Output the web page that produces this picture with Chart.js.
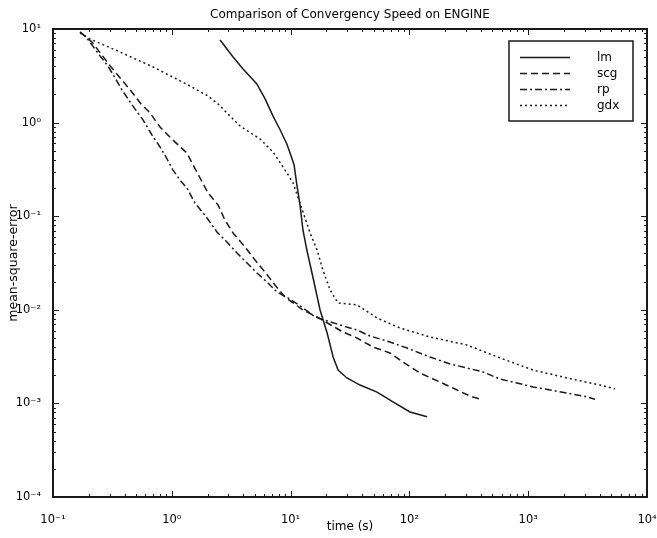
<!DOCTYPE html>
<html>
<head>
<meta charset="utf-8">
<script src="https://cdn.jsdelivr.net/npm/chart.js@4.4.1/dist/chart.umd.min.js"></script>
<style>
  html, body { margin: 0; padding: 0; background: #fff; }
</style>
</head>
<body>
<canvas id="chart" width="657" height="538"></canvas>
<script>
// series names (legend order)
const seriesNames = ["lm", "scg", "rp", "gdx"];

// time (s) and mean-square-error
const lmTime = [2.55, 3.28, 3.98, 5.2, 6.1, 7.1, 8.1, 9.3, 10.1, 10.7, 11.3, 12.0, 12.7, 13.7, 15.4, 17.7, 20.3, 22.8, 25.1, 29.8, 38.4, 53.4, 72.8, 101, 141];
const lmMse = [7.63, 5.02, 3.74, 2.59, 1.79, 1.18, 0.854, 0.591, 0.44, 0.352, 0.215, 0.132, 0.0712, 0.0435, 0.0224, 0.00995, 0.00565, 0.00313, 0.00227, 0.00187, 0.00157, 0.00132, 0.00104, 0.00081, 0.00072];

const scgTime = [0.169, 0.213, 0.254, 0.308, 0.374, 0.454, 0.551, 0.656, 0.796, 1.02, 1.34, 1.51, 1.73, 2.02, 2.45, 2.80, 3.28, 4.13, 5.02, 6.09, 7.39, 8.97, 12.7, 16.7, 27.6, 36.2, 49.4, 68.6, 88.3, 123, 181, 252, 324, 393];
const scgMse = [9.29, 7.26, 5.41, 3.93, 2.92, 2.18, 1.58, 1.27, 0.897, 0.652, 0.473, 0.352, 0.256, 0.177, 0.132, 0.0911, 0.0661, 0.0469, 0.034, 0.0253, 0.0184, 0.0137, 0.00995, 0.00838, 0.00579, 0.005, 0.004, 0.00346, 0.00277, 0.00211, 0.00169, 0.00139, 0.0012, 0.00111];

const rpTime = [0.169, 0.19, 0.249, 0.29, 0.333, 0.381, 0.471, 0.572, 0.681, 0.796, 0.894, 1.02, 1.17, 1.34, 1.57, 1.98, 2.40, 2.91, 3.54, 4.30, 5.22, 6.33, 7.68, 9.51, 12.7, 16.1, 26.1, 36.2, 46.6, 68.6, 95.5, 149, 220, 305, 416, 579, 805, 1100, 1530, 2120, 2890, 3650];
const rpMse = [9.29, 8.21, 5.15, 4.02, 3.0, 2.23, 1.5, 1.07, 0.737, 0.549, 0.429, 0.312, 0.244, 0.2, 0.138, 0.0957, 0.0678, 0.053, 0.0404, 0.0316, 0.0247, 0.0198, 0.0155, 0.0134, 0.0105, 0.00838, 0.00688, 0.00608, 0.00525, 0.00453, 0.0039, 0.00313, 0.00264, 0.00239, 0.00217, 0.00182, 0.00165, 0.0015, 0.00139, 0.00129, 0.0012, 0.00111];

const gdxTime = [0.169, 0.205, 0.366, 0.695, 1.32, 2.02, 2.45, 3.75, 5.53, 7.11, 9.33, 10.5, 14.6, 16.7, 18.7, 21.5, 25.1, 36.2, 53.4, 83.3, 149, 305, 579, 1100, 2120, 4020, 5380];
const gdxMse = [9.06, 7.82, 5.68, 3.93, 2.59, 1.92, 1.58, 0.92, 0.668, 0.485, 0.289, 0.226, 0.0661, 0.0435, 0.0266, 0.0163, 0.0118, 0.0113, 0.00817, 0.00639, 0.00512, 0.00421, 0.00306, 0.00227, 0.00187, 0.00157, 0.00143];

// axis decades (tick labels are 10^n)
const xDecades = [-1, 0, 1, 2, 3, 4];
const yDecades = [-4, -3, -2, -1, 0, 1];

const FONT = "'DejaVu Sans', 'Liberation Sans', sans-serif";
const INK = "#1a1a1a";

const supMap = { "-": "\u207B", "0": "\u2070", "1": "\u00B9", "2": "\u00B2", "3": "\u00B3", "4": "\u2074" };
function powLabel(e) {
  return "10" + String(e).split("").map(c => supMap[c]).join("");
}

// ticks 1..9 in every decade, last decade only its start
function decadeTicks(exps) {
  const ticks = [];
  exps.forEach((e, i) => {
    const base = Math.pow(10, e);
    const top = i === exps.length - 1 ? 1 : 9;
    for (let m = 1; m <= top; m++) {
      ticks.push({ value: m * base, major: m === 1, exp: e });
    }
  });
  return ticks;
}

function zip(xs, ys) {
  return xs.map((x, i) => ({ x: x, y: ys[i] }));
}

// box round the plot with inward ticks on all four sides
const axesBox = {
  id: "axesBox",
  afterDraw(chart) {
    const { ctx, chartArea: a, scales } = chart;
    ctx.save();
    ctx.strokeStyle = INK;
    ctx.lineWidth = 1;
    scales.x.ticks.forEach(t => {
      const px = Math.round(scales.x.getPixelForValue(t.value)) + 0.5;
      const len = t.major ? 6 : 3;
      ctx.beginPath();
      ctx.moveTo(px, a.bottom); ctx.lineTo(px, a.bottom - len);
      ctx.moveTo(px, a.top); ctx.lineTo(px, a.top + len);
      ctx.stroke();
    });
    scales.y.ticks.forEach(t => {
      const py = Math.round(scales.y.getPixelForValue(t.value)) + 0.5;
      const len = t.major ? 6 : 3;
      ctx.beginPath();
      ctx.moveTo(a.left, py); ctx.lineTo(a.left + len, py);
      ctx.moveTo(a.right, py); ctx.lineTo(a.right - len, py);
      ctx.stroke();
    });
    ctx.lineWidth = 2;
    ctx.strokeRect(a.left, a.top, a.right - a.left, a.bottom - a.top);
    ctx.restore();
  }
};

// matlab style legend box in the top right corner
const boxLegend = {
  id: "boxLegend",
  afterDraw(chart) {
    const { ctx, chartArea: a } = chart;
    const w = 124, h = 80;
    const left = a.right - 14 - w, top = a.top + 12;
    ctx.save();
    ctx.fillStyle = "#fff";
    ctx.fillRect(left, top, w, h);
    ctx.lineWidth = 1.5;
    ctx.strokeStyle = INK;
    ctx.strokeRect(left, top, w, h);
    chart.data.datasets.forEach((ds, i) => {
      const y = top + 16 + i * 16 + 0.5;
      ctx.setLineDash(ds.borderDash || []);
      ctx.lineWidth = ds.borderWidth;
      ctx.strokeStyle = ds.borderColor;
      ctx.beginPath();
      ctx.moveTo(left + 11, y);
      ctx.lineTo(left + 61, y);
      ctx.stroke();
      ctx.setLineDash([]);
      ctx.fillStyle = "#000";
      ctx.font = "12px " + FONT;
      ctx.textBaseline = "middle";
      ctx.fillText(ds.label, left + 88, y);
    });
    ctx.restore();
  }
};

const dashes = [[], [7, 4], [7, 3, 2, 3], [2, 3]];
const series = [zip(lmTime, lmMse), zip(scgTime, scgMse), zip(rpTime, rpMse), zip(gdxTime, gdxMse)];

new Chart(document.getElementById("chart"), {
  type: "line",
  data: {
    datasets: seriesNames.map((name, i) => ({
      label: name,
      data: series[i],
      borderColor: INK,
      borderWidth: 1.5,
      borderDash: dashes[i],
      pointRadius: 0,
      fill: false,
      tension: 0
    }))
  },
  options: {
    responsive: false,
    animation: false,
    devicePixelRatio: 1,
    layout: { padding: { left: 6, right: 10, top: 0, bottom: 0 } },
    plugins: {
      legend: { display: false },
      tooltip: { enabled: false },
      title: {
        display: true,
        fullSize: false,
        text: "Comparison of Convergency Speed on ENGINE",
        color: "#000",
        font: { family: FONT, size: 12, weight: "normal" },
        padding: { top: 8, bottom: 6.6 }
      }
    },
    scales: {
      x: {
        type: "logarithmic",
        min: 0.1,
        max: 10000,
        afterBuildTicks: s => { s.ticks = decadeTicks(xDecades); },
        afterFit: s => { s.height = 41; s.paddingLeft = 0; s.paddingRight = 0; },
        grid: { display: false },
        border: { display: false },
        ticks: {
          autoSkip: false,
          maxRotation: 0,
          padding: 8,
          color: "#000",
          font: { family: FONT, size: 11.5 },
          callback: (v, i, ticks) => ticks[i].major ? powLabel(ticks[i].exp) : ""
        },
        title: {
          display: true,
          text: "time (s)",
          color: "#000",
          font: { family: FONT, size: 12 },
          padding: { top: 0, bottom: 4 }
        }
      },
      y: {
        type: "logarithmic",
        min: 0.0001,
        max: 10,
        afterBuildTicks: s => { s.ticks = decadeTicks(yDecades); },
        afterFit: s => { s.width = 47; s.paddingTop = 0; s.paddingBottom = 0; },
        grid: { display: false },
        border: { display: false },
        ticks: {
          autoSkip: false,
          padding: 4,
          color: "#000",
          font: { family: FONT, size: 11.5 },
          callback: (v, i, ticks) => ticks[i].major ? powLabel(ticks[i].exp) : ""
        },
        title: {
          display: true,
          text: "mean-square-error",
          color: "#000",
          font: { family: FONT, size: 12.5 },
          padding: 0
        }
      }
    }
  },
  plugins: [axesBox, boxLegend]
});
</script>
</body>
</html>
